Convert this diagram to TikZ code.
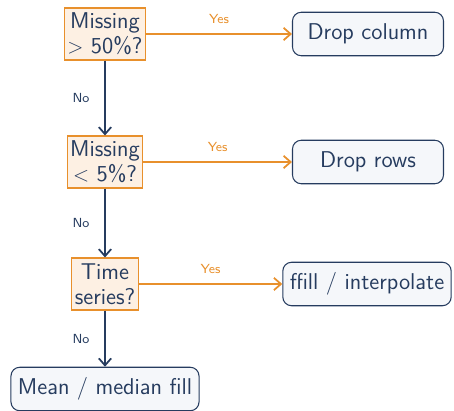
\documentclass[tikz,border=0pt]{standalone}
\usepackage{amsmath}
\usepackage{tikz}
\usetikzlibrary{arrows.meta,shapes,arrows}

\definecolor{navy}{HTML}{263C5F}
\definecolor{amber}{HTML}{E8902C}
\definecolor{peach}{HTML}{FDF0E3}
\definecolor{mist}{HTML}{F5F7FA}

\begin{document}
\begin{tikzpicture}[font=\sffamily\fontsize{13}{14}\selectfont, text=navy]
      \useasboundingbox (0,0) rectangle (9.08,8.22);
      \begin{scope}[every node/.style={rectangle,draw=amber,fill=peach,line width=0.6pt,
          align=center,inner xsep=0.06cm,inner ysep=0.03cm,minimum height=1.04cm}]
        \node (M50) at (2.1,7.54) {Missing\\$>$ 50\%?};
        \node (M5)  at (2.1,4.98) {Missing\\$<$ 5\%?};
        \node (TS)  at (2.1,2.54) {Time\\series?};
      \end{scope}
      \begin{scope}[every node/.style={rectangle,rounded corners=5pt,draw=navy,fill=mist,
          line width=0.6pt,inner xsep=0.14cm,minimum height=0.87cm}]
        \node[minimum width=3.02cm] (DC) at (7.36,7.54) {Drop column};
        \node[minimum width=3.02cm] (DR) at (7.36,4.98) {Drop rows};
        \node (FI) at (7.34,2.54) {ffill / interpolate};
        \node (MF) at (2.1,0.44)  {Mean / median fill};
      \end{scope}
      \begin{scope}[>={Straight Barb[length=4pt,width=7pt]},
          every edge/.style={draw,line width=1pt},
          every node/.style={font=\sffamily\fontsize{7.5}{9}\selectfont}]
        \path[->,navy] (M50) edge node[left=5pt,text=navy] {No} (M5);
        \path[->,navy] (M5)  edge node[left=5pt,text=navy] {No} (TS);
        \path[->,navy] (TS)  edge node[left=5pt,text=navy] {No} (MF);
        \path[->,amber] (M50) edge node[above=2pt,text=amber] {Yes} (DC);
        \path[->,amber] (M5)  edge node[above=2pt,text=amber] {Yes} (DR);
        \path[->,amber] (TS)  edge node[above=2pt,text=amber] {Yes} (FI);
      \end{scope}
    \end{tikzpicture}
\end{document}
